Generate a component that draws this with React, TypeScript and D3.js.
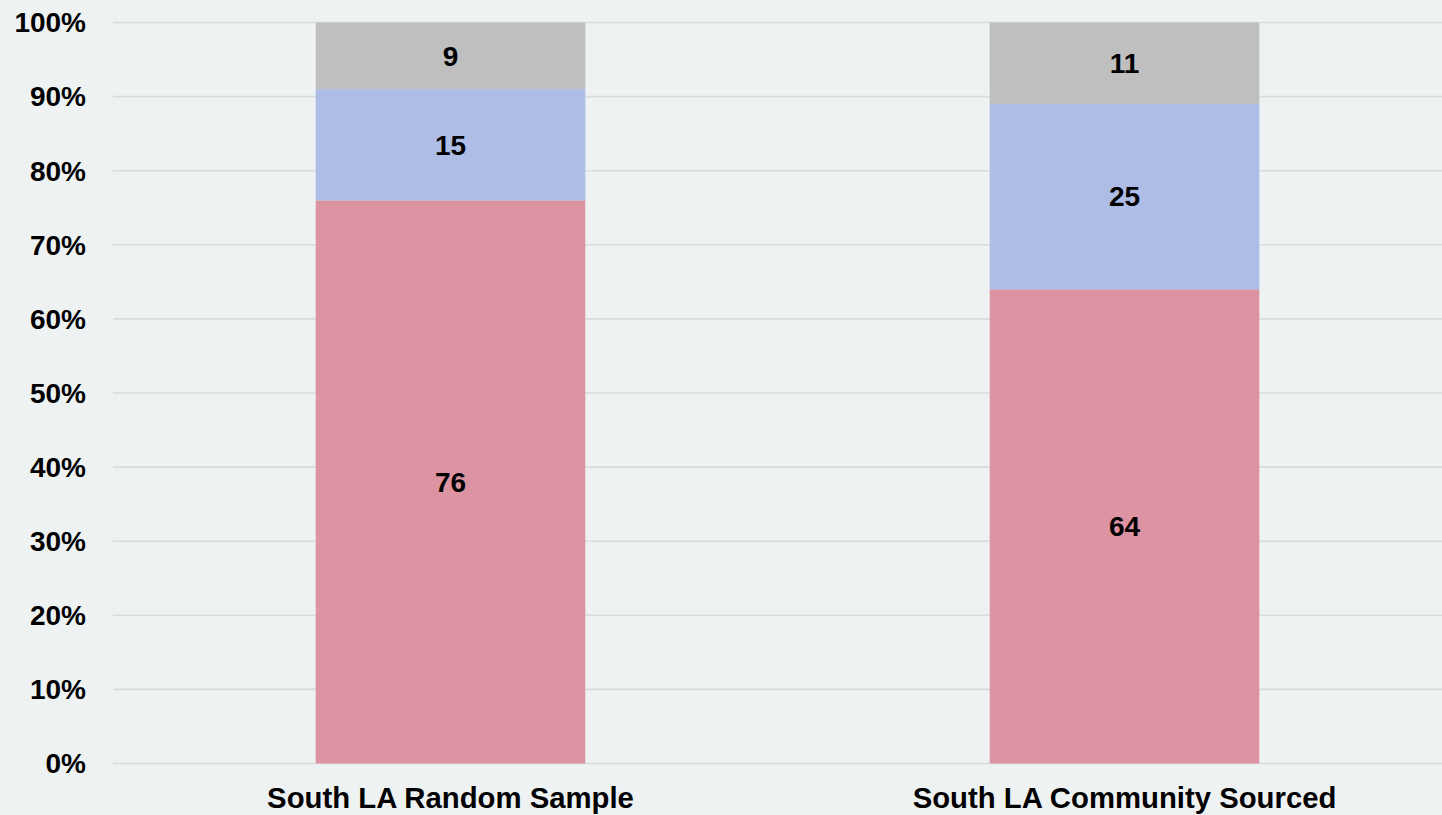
import React from "react";
import * as d3 from "d3";

const categories = ["South LA Random Sample", "South LA Community Sourced"];
const seriesNames = ["Bottom", "Middle", "Top"];
const bottomValues = [76, 64];
const middleValues = [15, 25];
const topValues = [9, 11];
const yTicks = [0, 10, 20, 30, 40, 50, 60, 70, 80, 90, 100];
const colors = ["#dc93a2", "#adbde6", "#bfbfbf"];

const W = 1442;
const H = 815;
const FONT = "'Liberation Sans', Arial, sans-serif";

export default function App() {
  const x = d3.scaleBand<string>().domain(categories).range([113.5, 1461.5]).padding(0);
  const y = d3.scaleLinear().domain([0, 100]).range([763.5, 22.5]);
  const barW = x.step() * 0.4;

  const rows = categories.map((c, i) => ({
    cat: c,
    Bottom: bottomValues[i],
    Middle: middleValues[i],
    Top: topValues[i],
  }));
  const stacked = d3.stack<any>().keys(seriesNames)(rows);

  return (
    <svg
      width={W}
      height={H}
      style={{ position: "absolute", left: 0, top: 0, display: "block" }}
      fontFamily={FONT}
    >
      <rect x={0} y={0} width={W} height={H} fill="#eef2f3" />
      {yTicks.map((t) => (
        <g key={t}>
          <line x1={113} x2={W} y1={y(t)} y2={y(t)} stroke="#d9dbdc" strokeWidth={1.6} />
          <text
            x={86}
            y={y(t)}
            dy="0.35em"
            textAnchor="end"
            fontSize={28}
            fontWeight="bold"
            fill="#000"
          >
            {t}%
          </text>
        </g>
      ))}
      {stacked.map((s, si) => (
        <g key={s.key} fill={colors[si]}>
          {s.map((d, i) => {
            const cx = (x(categories[i]) as number) + x.step() / 2;
            return (
              <rect
                key={i}
                x={cx - barW / 2}
                y={y(d[1])}
                width={barW}
                height={y(d[0]) - y(d[1])}
              />
            );
          })}
        </g>
      ))}
      {stacked.map((s) =>
        s.map((d, i) => {
          const cx = (x(categories[i]) as number) + x.step() / 2;
          return (
            <text
              key={s.key + i}
              x={cx}
              y={y((d[0] + d[1]) / 2)}
              dy="0.35em"
              textAnchor="middle"
              fontSize={28}
              fontWeight="bold"
              fill="#000"
            >
              {d[1] - d[0]}
            </text>
          );
        })
      )}
      {categories.map((c) => (
        <text
          key={c}
          x={(x(c) as number) + x.step() / 2}
          y={808}
          textAnchor="middle"
          fontSize={29.3}
          fontWeight="bold"
          fill="#000"
        >
          {c}
        </text>
      ))}
    </svg>
  );
}
